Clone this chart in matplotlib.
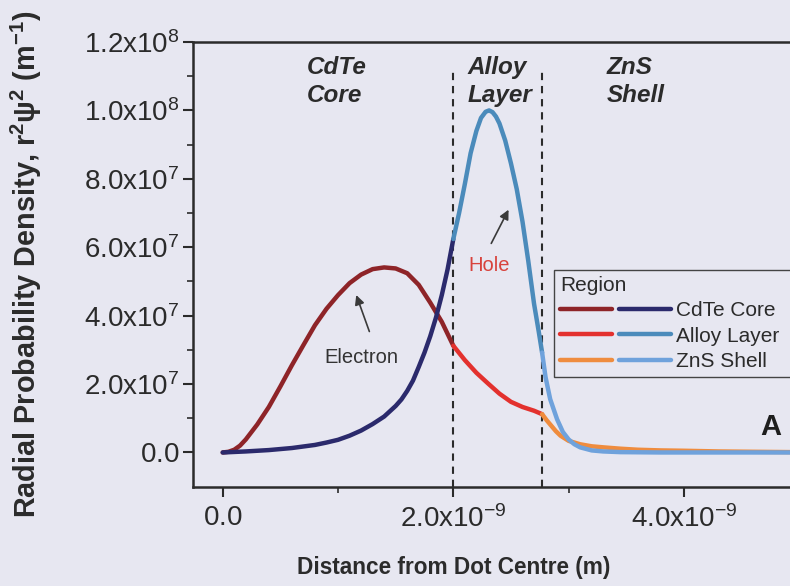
"""Radial probability density of electron and hole in a CdTe/alloy/ZnS dot."""
import numpy as np
import matplotlib
matplotlib.use("Agg")
import matplotlib.pyplot as plt
from matplotlib.legend_handler import HandlerTuple

plt.rcParams["font.family"] = ["Liberation Sans", "DejaVu Sans"]
plt.rcParams["mathtext.fontset"] = "custom"
plt.rcParams["mathtext.rm"] = "Liberation Sans"
plt.rcParams["mathtext.it"] = "Liberation Sans:italic"
plt.rcParams["mathtext.bf"] = "Liberation Sans:bold"

# x in nm (1e-9 m), y in units of 1e7 m^-1
e_core_x = [0.0, 0.05, 0.1, 0.15, 0.2, 0.3, 0.4, 0.5, 0.6, 0.7, 0.8, 0.9, 1.0, 1.1, 1.2, 1.3, 1.4, 1.5,
            1.6, 1.7, 1.8, 1.9, 2.0]
e_core_y = [0.0, 0.02, 0.08, 0.2, 0.38, 0.82, 1.33, 1.93, 2.55, 3.14, 3.72, 4.2, 4.6, 4.95, 5.2, 5.36,
            5.41, 5.38, 5.24, 4.9, 4.38, 3.82, 3.12]
e_alloy_x = [2.0, 2.1, 2.2, 2.3, 2.4, 2.5, 2.6, 2.7, 2.77]
e_alloy_y = [3.12, 2.70, 2.33, 2.02, 1.72, 1.48, 1.33, 1.22, 1.12]
e_shell_x = [2.77, 2.81, 2.85, 2.89, 2.93, 3.0, 3.1, 3.2, 3.3, 3.45, 3.6, 3.8, 4.0, 4.3, 4.6, 4.95]
e_shell_y = [1.12, 0.94, 0.78, 0.62, 0.49, 0.34, 0.24, 0.18, 0.15, 0.11, 0.08, 0.06, 0.05, 0.03, 0.02, 0.01]

h_core_x = [0.0, 0.2, 0.4, 0.6, 0.8, 0.9, 1.0, 1.1, 1.2, 1.3, 1.4, 1.5, 1.55, 1.6, 1.65, 1.7, 1.75, 1.8,
            1.85, 1.9, 1.95, 2.0]
h_core_y = [0.0, 0.03, 0.07, 0.13, 0.22, 0.29, 0.37, 0.49, 0.64, 0.83, 1.05, 1.36, 1.55, 1.8, 2.1, 2.5,
            2.92, 3.4, 3.95, 4.6, 5.35, 6.24]
h_alloy_x = [2.0, 2.05, 2.1, 2.15, 2.2, 2.24, 2.28, 2.31, 2.34, 2.37, 2.4, 2.45, 2.5, 2.55, 2.6, 2.65,
             2.7, 2.74, 2.77]
h_alloy_y = [6.24, 7.0, 7.85, 8.75, 9.4, 9.78, 9.96, 10.0, 9.95, 9.82, 9.62, 9.12, 8.45, 7.7, 6.75, 5.6,
             4.35, 3.55, 2.92]
h_shell_x = [2.77, 2.8, 2.84, 2.9, 2.95, 3.0, 3.05, 3.1, 3.2, 3.3, 3.45, 3.8, 4.95]
h_shell_y = [2.92, 2.2, 1.56, 0.97, 0.6, 0.38, 0.24, 0.15, 0.06, 0.03, 0.01, 0.0, 0.0]

boundaries = [2.0, 2.77]
region_names = ["CdTe\nCore", "Alloy\nLayer", "ZnS\nShell"]
region_label_x = [0.73, 2.12, 3.33]
legend_labels = ["CdTe Core", "Alloy Layer", "ZnS Shell"]

xticks = [0, 2, 4]
xtick_labels = [r"$\mathrm{0.0}$", r"$\mathrm{2.0x10^{-9}}$", r"$\mathrm{4.0x10^{-9}}$"]
yticks = [0, 2, 4, 6, 8, 10, 12]
ytick_labels = [r"$\mathrm{0.0}$"] + [r"$\mathrm{%s}$" % s for s in
                ["2.0x10^{7}", "4.0x10^{7}", "6.0x10^{7}", "8.0x10^{7}", "1.0x10^{8}", "1.2x10^{8}"]]

bg = "#e7e7f1"
ink = "#2b2b2b"
e_colors = ["#8e2428", "#e3312e", "#ef8c3e"]
h_colors = ["#2b2a6c", "#4b8bbb", "#6fa2dc"]

fig = plt.figure(figsize=(7.9, 5.86), dpi=100, facecolor=bg)
ax = fig.add_axes([0.2447, 0.1695, 0.7553, 0.7588], facecolor=bg)

lw = 3.2
e_lines = []
h_lines = []
for xs, ys, c in zip([e_core_x, e_alloy_x, e_shell_x], [e_core_y, e_alloy_y, e_shell_y], e_colors):
    e_lines.append(ax.plot(xs, ys, color=c, lw=lw, solid_capstyle="round", solid_joinstyle="round", zorder=3)[0])
for xs, ys, c in zip([h_core_x, h_alloy_x, h_shell_x], [h_core_y, h_alloy_y, h_shell_y], h_colors):
    h_lines.append(ax.plot(xs, ys, color=c, lw=lw, solid_capstyle="round", solid_joinstyle="round", zorder=4)[0])

ax.vlines(boundaries, -1, 11.13, colors=ink, linestyles=(0, (3.5, 2.8)), lw=1.5, zorder=2)

for name, x in zip(region_names, region_label_x):
    ax.text(x, 10.85, name, fontsize=17.5, fontweight="bold", style="italic", color=ink,
            ha="left", va="center", linespacing=1.3)

ax.annotate("", xy=(1.15, 4.68), xytext=(1.28, 3.46),
            arrowprops=dict(arrowstyle="-|>", color="#3a3a3a", lw=1.2, mutation_scale=14))
ax.text(1.205, 2.78, "Electron", fontsize=14.5, color="#333333", ha="center", va="center")
ax.annotate("", xy=(2.49, 7.17), xytext=(2.318, 6.04),
            arrowprops=dict(arrowstyle="-|>", color="#3a3a3a", lw=1.2, mutation_scale=14))
ax.text(2.31, 5.46, "Hole", fontsize=14.5, color="#d8423c", ha="center", va="center")
ax.text(4.75, 0.73, "A", fontsize=21, fontweight="bold", color="#1e1e1e", ha="center", va="center")

ax.set_xlim(-0.255, 4.92)
ax.set_ylim(-1, 12)
ax.set_xticks(xticks)
ax.set_xticklabels(xtick_labels)
ax.set_xticks([1, 3], minor=True)
ax.set_yticks(yticks)
ax.set_yticklabels(ytick_labels)
ax.set_yticks([1, 3, 5, 7, 9, 11], minor=True)
ax.tick_params(which="major", direction="out", length=7, width=1.5, color=ink, labelsize=20, labelcolor=ink, pad=3)
ax.tick_params(which="minor", direction="out", length=4, width=1.2, color=ink)
ax.tick_params(axis="x", pad=6)
for side in ["left", "bottom", "top"]:
    ax.spines[side].set_linewidth(1.8)
    ax.spines[side].set_color(ink)
ax.spines["right"].set_visible(False)

ax.set_xlabel("Distance from Dot Centre (m)", fontsize=16.3, fontweight="bold", color=ink)
ax.xaxis.set_label_coords((454 - 193.3) / 596.7, -(556 - 486.7) / 444.7)
ax.set_ylabel(r"Radial Probability Density, r$^{\mathbf{2}}$ψ$^{\mathbf{2}}$ (m$^{\mathbf{-1}}$)",
              fontsize=20.8, fontweight="bold", color=ink)
ax.yaxis.set_label_coords(-(193.3 - 44) / 596.7, (586 - 264 - 99.3) / 444.7)

handles = [tuple(pair) for pair in zip(e_lines, h_lines)]
leg = ax.legend(handles, legend_labels, title="Region", handler_map={tuple: HandlerTuple(ndivide=None, pad=0.3)},
                loc="upper left", bbox_to_anchor=(554 / 790, (586 - 270) / 586, 240 / 790, 0),
                bbox_transform=fig.transFigure, mode="expand",
                fontsize=15, title_fontsize=15, handlelength=5.3, handletextpad=0.25, labelspacing=0.3,
                borderpad=0.3, borderaxespad=0, frameon=True, fancybox=False, alignment="left")
leg.get_frame().set_facecolor(bg)
leg.get_frame().set_edgecolor("#444444")
leg.get_frame().set_linewidth(1.0)
leg.get_frame().set_alpha(1)
leg.get_title().set_color(ink)
for t in leg.get_texts():
    t.set_color(ink)

fig.savefig("out.png", dpi=100, facecolor=bg)
